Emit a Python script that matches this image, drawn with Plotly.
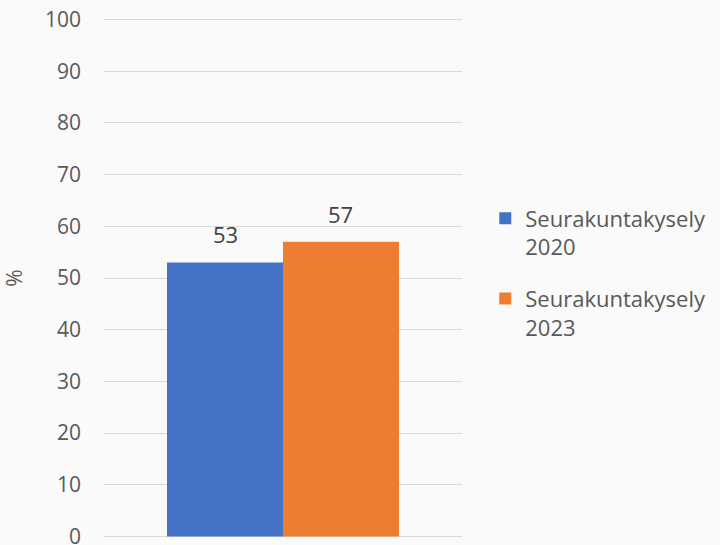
import plotly.graph_objects as go

categories = ["Kaikki"]
series_names = ["Seurakuntakysely<br>2020", "Seurakuntakysely<br>2023"]
values_2020 = [53]
values_2023 = [57]
colors = ["#4472c4", "#ed7d31"]
tick_vals = list(range(0, 101, 10))

BARGAP = 0.352
PLOT_W = 720 - 104 - 258

fig = go.Figure()
series = [values_2020, values_2023]
for i, (name, vals, col) in enumerate(zip(series_names, series, colors)):
    fig.add_trace(go.Bar(
        x=categories, y=vals, name=name, marker_color=col, marker_line_width=0,
        legendgroup=f"g{i}",
    ))

# data labels above each bar (shifted to the centre of each grouped bar)
bar_w = PLOT_W * (1 - BARGAP) / len(series)
for i, vals in enumerate(series):
    xshift = (i - (len(series) - 1) / 2) * bar_w
    for c, v in zip(categories, vals):
        fig.add_annotation(x=c, y=v, xref="x", yref="y", text=str(v), showarrow=False,
                           yanchor="bottom", xshift=xshift, yshift=11,
                           font=dict(size=22, color="#404040"))

font_family = "Open Sans"
fig.update_layout(
    width=720, height=545,
    margin=dict(l=104, r=258, t=18, b=7, autoexpand=False),
    paper_bgcolor="#fafafa", plot_bgcolor="#fafafa",
    barmode="group", bargap=BARGAP, bargroupgap=0,
    font=dict(family=font_family, size=21, color="#595959"),
    showlegend=True,
    legend=dict(x=1.065, y=0.655, xanchor="left", yanchor="top", valign="top",
                font=dict(size=22, color="#595959"),
                tracegroupgap=20, itemwidth=30, bgcolor="rgba(0,0,0,0)"),
    xaxis=dict(showticklabels=False, showgrid=False, zeroline=False, showline=False,
               automargin=False, type="category", range=[-0.5, 0.5]),
    yaxis=dict(range=[-0.3, 100.3], tickvals=tick_vals, showgrid=True, gridcolor="#d9d9d9",
               gridwidth=1, zeroline=False, showline=False, automargin=False,
               ticklabeloverflow="allow",
               tickfont=dict(size=21, color="#595959"), ticklabelstandoff=22,
               title=dict(text="%", font=dict(size=21, color="#595959"), standoff=16)),
)

fig.write_html("out.html", config={"displayModeBar": False},
               post_script="document.body.style.margin='0';document.body.style.background='#fafafa';")
